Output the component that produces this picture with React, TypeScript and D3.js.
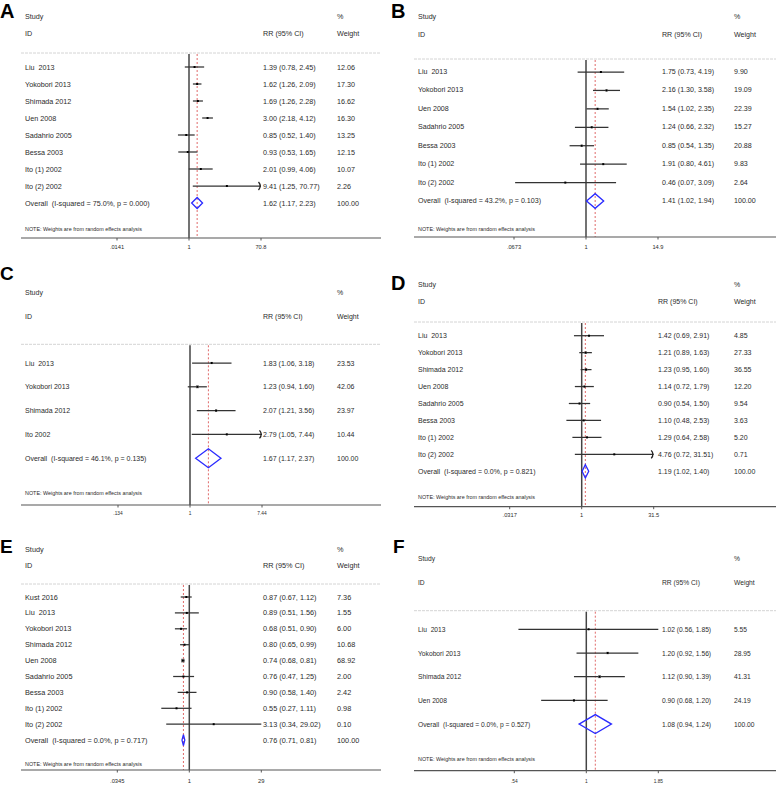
import React from 'react';
import * as d3 from 'd3';

// ---------- DATA ----------
const namesA = ["Liu  2013", "Yokobori 2013", "Shimada 2012", "Uen 2008", "Sadahrio 2005", "Bessa 2003", "Ito (1) 2002", "Ito (2) 2002"];
const rrA = [1.39, 1.62, 1.69, 3.00, 0.85, 0.93, 2.01, 9.41];
const lowA = [0.78, 1.26, 1.26, 2.18, 0.52, 0.53, 0.99, 1.25];
const highA = [2.45, 2.09, 2.28, 4.12, 1.40, 1.65, 4.06, 70.77];
const weightA = [12.06, 17.30, 16.62, 16.30, 13.25, 12.15, 10.07, 2.26];
const overallA = [1.62, 1.17, 2.23];
const hetA = "I-squared = 75.0%, p = 0.000";
const ticksA = [".0141", "1", "70.8"];
const axisMaxA = 70.8;
const arrowsA = [7];

const namesB = ["Liu  2013", "Yokobori 2013", "Uen 2008", "Sadahrio 2005", "Bessa 2003", "Ito (1) 2002", "Ito (2) 2002"];
const rrB = [1.75, 2.16, 1.54, 1.24, 0.85, 1.91, 0.46];
const lowB = [0.73, 1.30, 1.02, 0.66, 0.54, 0.80, 0.07];
const highB = [4.19, 3.58, 2.35, 2.32, 1.35, 4.61, 3.09];
const weightB = [9.90, 19.09, 22.39, 15.27, 20.88, 9.83, 2.64];
const overallB = [1.41, 1.02, 1.94];
const hetB = "I-squared = 43.2%, p = 0.103";
const ticksB = [".0673", "1", "14.9"];
const axisMaxB = 14.9;
const arrowsB: number[] = [];

const namesC = ["Liu  2013", "Yokobori 2013", "Shimada 2012", "Ito 2002"];
const rrC = [1.83, 1.23, 2.07, 2.79];
const lowC = [1.06, 0.94, 1.21, 1.05];
const highC = [3.18, 1.60, 3.56, 7.44];
const weightC = [23.53, 42.06, 23.97, 10.44];
const overallC = [1.67, 1.17, 2.37];
const hetC = "I-squared = 46.1%, p = 0.135";
const ticksC = [".134", "1", "7.44"];
const axisMaxC = 7.44;
const arrowsC = [3];

const namesD = ["Liu  2013", "Yokobori 2013", "Shimada 2012", "Uen 2008", "Sadahrio 2005", "Bessa 2003", "Ito (1) 2002", "Ito (2) 2002"];
const rrD = [1.42, 1.21, 1.23, 1.14, 0.90, 1.10, 1.29, 4.76];
const lowD = [0.69, 0.89, 0.95, 0.72, 0.54, 0.48, 0.64, 0.72];
const highD = [2.91, 1.63, 1.60, 1.79, 1.50, 2.53, 2.58, 31.51];
const weightD = [4.85, 27.33, 36.55, 12.20, 9.54, 3.63, 5.20, 0.71];
const overallD = [1.19, 1.02, 1.40];
const hetD = "I-squared = 0.0%, p = 0.821";
const ticksD = [".0317", "1", "31.5"];
const axisMaxD = 31.5;
const arrowsD = [7];

const namesE = ["Kust 2016", "Liu  2013", "Yokobori 2013", "Shimada 2012", "Uen 2008", "Sadahrio 2005", "Bessa 2003", "Ito (1) 2002", "Ito (2) 2002"];
const rrE = [0.87, 0.89, 0.68, 0.80, 0.74, 0.76, 0.90, 0.55, 3.13];
const lowE = [0.67, 0.51, 0.51, 0.65, 0.68, 0.47, 0.58, 0.27, 0.34];
const highE = [1.12, 1.56, 0.90, 0.99, 0.81, 1.25, 1.40, 1.11, 29.02];
const weightE = [7.36, 1.55, 6.00, 10.68, 68.92, 2.00, 2.42, 0.98, 0.10];
const overallE = [0.76, 0.71, 0.81];
const hetE = "I-squared = 0.0%, p = 0.717";
const ticksE = [".0345", "1", "29"];
const axisMaxE = 29;
const arrowsE: number[] = [];

const namesF = ["Liu  2013", "Yokobori 2013", "Shimada 2012", "Uen 2008"];
const rrF = [1.02, 1.20, 1.12, 0.90];
const lowF = [0.56, 0.92, 0.90, 0.68];
const highF = [1.85, 1.56, 1.39, 1.20];
const weightF = [5.55, 28.95, 41.31, 24.19];
const overallF = [1.08, 0.94, 1.24];
const hetF = "I-squared = 0.0%, p = 0.527";
const ticksF = [".54", "1", "1.85"];
const axisMaxF = 1.85;
const arrowsF: number[] = [];

const panelLetters = ["A", "B", "C", "D", "E", "F"];

// ---------- LAYOUT ----------
const FONT = "'Liberation Sans', Arial, Helvetica, sans-serif";
const HALF = 72;

const LEFT = { ox: 0, nameX: 25, rrX: 263, wX: 337, sepX0: 21, sepX1: 381 };
const RIGHT = { ox: 389, nameX: 29, rrX: 273, wX: 345, sepX0: 25, sepX1: 387 };

// letter: [x relative to panel, baseline y, font size]
const layouts = [
  { ...LEFT, x1: 189, letter: [0, 18, 20], study: 16, id: 33, sep: 53, row0: 67, step: 17, note: 229, axis: 238, tick: 247, fs: 7.2, tfs: 5.7, dh: 5.5 },
  { ...RIGHT, x1: 197, letter: [2, 18, 20], study: 17, id: 35, sep: 59, row0: 72, step: 18.43, note: 229, axis: 237, tick: 247, fs: 7.1, tfs: 5.7, dh: 7.3 },
  { ...LEFT, x1: 190, letter: [0, 280, 19], study: 292, id: 316, sep: 344.3, row0: 363, step: 23.8, note: 493.3, axis: 505, tick: 513.5, fs: 7.0, tfs: 4.8, dh: 9.5 },
  { ...RIGHT, rrX: 269, x1: 192.7, letter: [2, 290, 20], study: 284, id: 301.3, sep: 322, row0: 335.7, step: 16.95, note: 497.3, axis: 506.7, tick: 515, fs: 7.0, tfs: 5.7, dh: 6.7 },
  { ...LEFT, x1: 189.3, letter: [0, 553, 19], study: 549.3, id: 565, sep: 584, row0: 597, step: 15.9, note: 764.3, axis: 770, tick: 781, fs: 7.3, tfs: 5.8, dh: 5.5 },
  { ...RIGHT, x1: 197.3, letter: [4, 553, 19], study: 558.3, id: 582.3, sep: 610.7, row0: 629.3, step: 23.7, note: 759.3, axis: 770.7, tick: 781.7, fs: 6.7, tfs: 4.8, dh: 9.5 },
];

const panels = [
  { names: namesA, rr: rrA, low: lowA, high: highA, weight: weightA, overall: overallA, het: hetA, ticks: ticksA, max: axisMaxA, arrows: arrowsA },
  { names: namesB, rr: rrB, low: lowB, high: highB, weight: weightB, overall: overallB, het: hetB, ticks: ticksB, max: axisMaxB, arrows: arrowsB },
  { names: namesC, rr: rrC, low: lowC, high: highC, weight: weightC, overall: overallC, het: hetC, ticks: ticksC, max: axisMaxC, arrows: arrowsC },
  { names: namesD, rr: rrD, low: lowD, high: highD, weight: weightD, overall: overallD, het: hetD, ticks: ticksD, max: axisMaxD, arrows: arrowsD },
  { names: namesE, rr: rrE, low: lowE, high: highE, weight: weightE, overall: overallE, het: hetE, ticks: ticksE, max: axisMaxE, arrows: arrowsE },
  { names: namesF, rr: rrF, low: lowF, high: highF, weight: weightF, overall: overallF, het: hetF, ticks: ticksF, max: axisMaxF, arrows: arrowsF },
];

const TXT = "#2b2b2b";
const fmt = (v: number) => v.toFixed(2);

function Panel({ p, L, letter }: any) {
  const x = d3.scaleLog().domain([1 / p.max, p.max]).range([L.x1 - HALF, L.x1 + HALF]).clamp(true);
  const n = p.names.length;
  const y = (i: number) => L.row0 + i * L.step;
  const yo = y(n);
  const tickVals = [1 / p.max, 1, p.max];
  const [ov, ol, oh] = p.overall;
  return (
    <g transform={`translate(${L.ox},0)`} fontFamily={FONT}>
      <text x={L.letter[0]} y={L.letter[1]} fontSize={L.letter[2]} fontWeight="bold" fill="#000">{letter}</text>
      {/* headers */}
      <g fontSize={L.fs} fill={TXT} dominantBaseline="central">
        <text x={L.nameX} y={L.study}>Study</text>
        <text x={L.wX} y={L.study}>%</text>
        <text x={L.nameX} y={L.id}>ID</text>
        <text x={L.rrX} y={L.id}>RR (95% CI)</text>
        <text x={L.wX} y={L.id}>Weight</text>
      </g>
      <line x1={L.sepX0} x2={L.sepX1} y1={L.sep} y2={L.sep} stroke="#d4d4d4" strokeWidth={1} strokeDasharray="3 1" />
      {/* reference line at 1 */}
      <line x1={x(1)} x2={x(1)} y1={L.sep + 1} y2={L.axis} stroke="#444" strokeWidth={1.5} />
      {/* overall dashed line */}
      <line x1={x(ov)} x2={x(ov)} y1={L.sep + 1} y2={L.axis} stroke="#e06a6a" strokeWidth={1} strokeDasharray="2 2" />
      {/* studies */}
      {p.names.map((nm: string, i: number) => {
        const yy = y(i);
        const xl = x(p.low[i]);
        const xh = x(Math.min(p.high[i], p.max));
        const arrow = p.arrows.includes(i);
        const s = Math.sqrt(p.weight[i]) * 0.45;
        return (
          <g key={i}>
            <line x1={xl} x2={xh} y1={yy} y2={yy} stroke="#333" strokeWidth={1.25} />
            {arrow && <path d={`M${xh - 2.5},${yy - 4} Q${xh + 1},${yy} ${xh - 2.5},${yy + 4}`} fill="none" stroke="#222" strokeWidth={1.3} />}
            <rect x={x(p.rr[i]) - s / 2} y={yy - s / 2} width={s} height={s} fill="#888" />
            <rect x={x(p.rr[i]) - 1} y={yy - 1} width={2} height={2} fill="#000" />
            <g fontSize={L.fs} fill={TXT} dominantBaseline="central">
              <text x={L.nameX} y={yy} style={{ whiteSpace: 'pre' }}>{nm}</text>
              <text x={L.rrX} y={yy}>{`${fmt(p.rr[i])} (${fmt(p.low[i])}, ${fmt(p.high[i])})`}</text>
              <text x={L.wX} y={yy}>{fmt(p.weight[i])}</text>
            </g>
          </g>
        );
      })}
      {/* overall */}
      <path d={`M${x(ol)},${yo} L${x(ov)},${yo - L.dh} L${x(oh)},${yo} L${x(ov)},${yo + L.dh} Z`} fill="none" stroke="#2a2aff" strokeWidth={1.3} />
      <g fontSize={L.fs} fill={TXT} dominantBaseline="central">
        <text x={L.nameX} y={yo} style={{ whiteSpace: 'pre' }}>{`Overall  (${p.het})`}</text>
        <text x={L.rrX} y={yo}>{`${fmt(ov)} (${fmt(ol)}, ${fmt(oh)})`}</text>
        <text x={L.wX} y={yo}>100.00</text>
      </g>
      <text x={L.nameX} y={L.note} fontSize={5.4} fill={TXT} dominantBaseline="central">NOTE: Weights are from random effects analysis</text>
      {/* axis */}
      <line x1={L.sepX0} x2={L.sepX1} y1={L.axis} y2={L.axis} stroke="#555" strokeWidth={1.2} />
      {tickVals.map((t, i) => (
        <g key={i}>
          <line x1={x(t)} x2={x(t)} y1={L.axis} y2={L.axis + 2.5} stroke="#555" strokeWidth={1} />
          <text x={x(t)} y={L.tick} fontSize={L.tfs} fill={TXT} textAnchor="middle" dominantBaseline="central">{p.ticks[i]}</text>
        </g>
      ))}
    </g>
  );
}

export default function App() {
  return (
    <svg width={778} height={786} style={{ position: 'absolute', left: 0, top: 0, background: '#fff' }}>
      <rect width={778} height={786} fill="#fff" />
      {panels.map((p, i) => (
        <Panel key={i} p={p} L={layouts[i]} letter={panelLetters[i]} />
      ))}
    </svg>
  );
}
